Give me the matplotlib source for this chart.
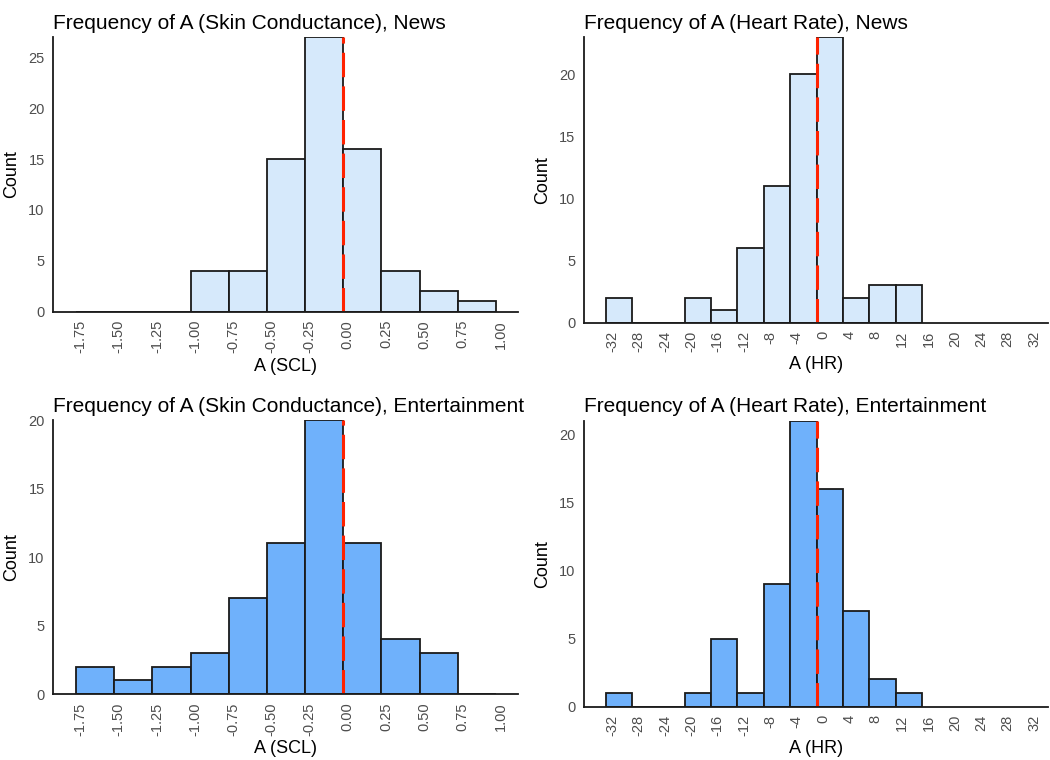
import numpy as np
import matplotlib.pyplot as plt

plt.rcParams['font.family'] = ['Liberation Sans', 'DejaVu Sans']

# bin edges (width 0.25 for SCL, 4 for HR)
scl_edges = [-1.78, -1.53, -1.28, -1.03, -0.78, -0.53, -0.28, -0.03, 0.22, 0.47, 0.72, 0.97]
hr_edges = [-33, -29, -25, -21, -17, -13, -9, -5, -1, 3, 7, 11, 15]

scl_news = [0, 0, 0, 4, 4, 15, 27, 16, 4, 2, 1]
scl_ent = [2, 1, 2, 3, 7, 11, 20, 11, 4, 3, 0]
hr_news = [2, 0, 0, 2, 1, 6, 11, 20, 23, 2, 3, 3]
hr_ent = [1, 0, 0, 1, 5, 1, 9, 21, 16, 7, 2, 1]

scl_ref = -0.03
hr_ref = -1

scl_ticks = [-1.75, -1.50, -1.25, -1.00, -0.75, -0.50, -0.25, 0.00, 0.25, 0.50, 0.75, 1.00]
hr_ticks = list(range(-32, 33, 4))

light = '#d6e9fb'
dark = '#6fb1fb'

fig = plt.figure(figsize=(10.5, 7.6), dpi=100)

panels = [
    ([0.0505, 0.590, 0.443, 0.3614], scl_edges, scl_news, light, scl_ref, scl_ticks,
     ['%.2f' % t for t in scl_ticks], (-1.93, 1.115), 'A (SCL)',
     'Frequency of A (Skin Conductance), News'),
    ([0.556, 0.5754, 0.442, 0.376], hr_edges, hr_news, light, hr_ref, hr_ticks,
     [str(t) for t in hr_ticks], (-36.3, 34.1), 'A (HR)',
     'Frequency of A (Heart Rate), News'),
    ([0.0505, 0.0868, 0.443, 0.3605], scl_edges, scl_ent, dark, scl_ref, scl_ticks,
     ['%.2f' % t for t in scl_ticks], (-1.93, 1.115), 'A (SCL)',
     'Frequency of A (Skin Conductance), Entertainment'),
    ([0.556, 0.0701, 0.442, 0.3763], hr_edges, hr_ent, dark, hr_ref, hr_ticks,
     [str(t) for t in hr_ticks], (-36.3, 34.1), 'A (HR)',
     'Frequency of A (Heart Rate), Entertainment'),
]

for pos, edges, counts, col, ref, ticks, labels, xlim, xlab, title in panels:
    ax = fig.add_axes(pos)
    edges = np.array(edges)
    ax.bar(edges[:-1], counts, width=np.diff(edges), align='edge',
           color=col, edgecolor='#1a1a1a', linewidth=1.3)
    ax.axvline(ref, color='#ff2200', linestyle=(0, (8, 3)), linewidth=2.2)
    ax.set_xlim(*xlim)
    ax.set_ylim(0, max(counts))
    ax.set_xticks(ticks)
    ax.set_xticklabels(labels, rotation=90)
    ax.set_yticks(range(0, max(counts) + 1, 5))
    ax.tick_params(length=0, labelsize=10.5, labelcolor='#4d4d4d', pad=6)
    for s in ['top', 'right']:
        ax.spines[s].set_visible(False)
    for s in ['left', 'bottom']:
        ax.spines[s].set_linewidth(1.3)
        ax.spines[s].set_color('#1a1a1a')
    ax.set_xlabel(xlab, fontsize=13, labelpad=3)
    ax.set_ylabel('Count', fontsize=13, labelpad=6)
    ax.set_title(title, fontsize=15, loc='left', pad=6)

fig.savefig('out.png', dpi=100)
